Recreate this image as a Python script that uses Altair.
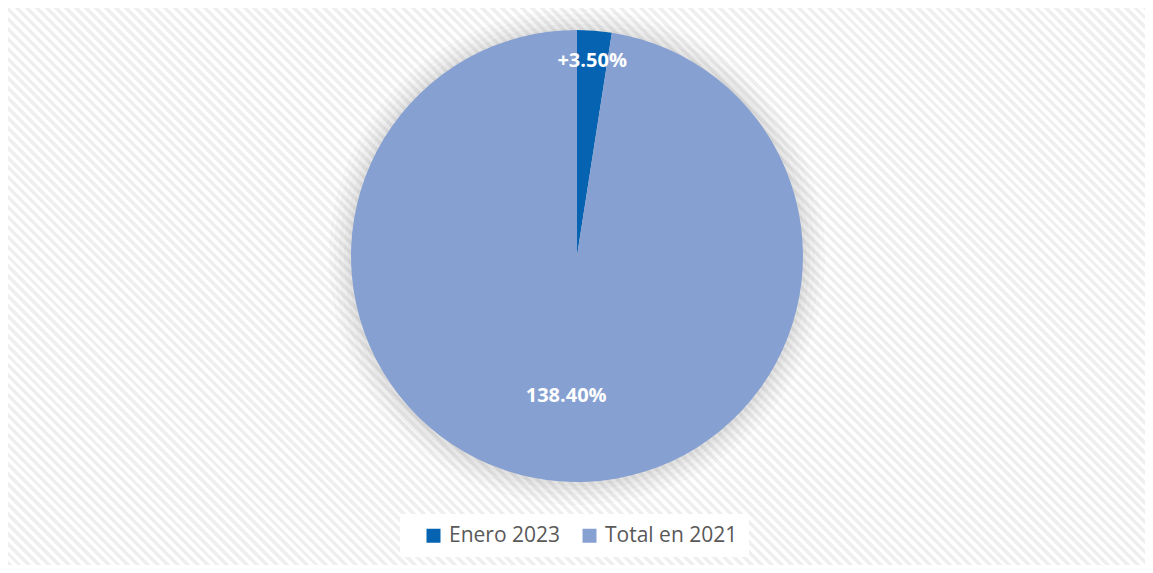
import math
import altair as alt
import pandas as pd

categories = ["Enero 2023", "Total en 2021"]
values = [3.50, 138.40]
labels = ["+3.50%", "138.40%"]
colors = ["#0563B1", "#86A0D1"]

W, H = 1137, 557
CX, CY, R = 569, 248, 226

df = pd.DataFrame({"cat": categories, "val": values, "label": labels, "ord": [0, 1]})

# background stripes via gradient ("\" direction)
S = W
stops = []
period = 7.0 / (S * math.sqrt(2))
n = int(1 / period) + 1
for i in range(n):
    o = i * period
    a = o + period * 0.5
    for off, col in [(o, "#ffffff"), (a, "#ffffff"), (a, "#efefef"), (o + period, "#efefef")]:
        if off <= 1:
            stops.append(alt.GradientStop(offset=off, color=col))
grad = alt.LinearGradient(gradient="linear", stops=stops, x1=0, y1=1, x2=1, y2=0)

one = alt.Data(values=[{"a": 1}])
bg = alt.Chart(one).mark_rect(fill=grad, clip=True).encode(
    x=alt.value(0), x2=alt.value(S), y=alt.value(0), y2=alt.value(S)
)

shadows = []
for k, op in [(22, 0.035), (17, 0.04), (12, 0.045), (7, 0.05), (3, 0.05)]:
    shadows.append(
        alt.Chart(one).mark_arc(radius=R + k, theta=0, theta2=2 * math.pi, color="#7f7f7f",
                                opacity=op, clip=True)
        .encode(x=alt.value(CX), y=alt.value(CY + 1))
    )

base = alt.Chart(df)
pie = base.mark_arc(radius=R).encode(
    theta=alt.Theta("val:Q", stack=True),
    order=alt.Order("ord:Q"),
    color=alt.Color(
        "cat:N",
        scale=alt.Scale(domain=categories, range=colors),
        legend=alt.Legend(
            title=None, orient="none", legendX=392, legendY=506, direction="horizontal",
            fillColor="white", padding=11, symbolType="square", symbolSize=196,
            symbolStrokeWidth=0, labelFontSize=21, labelFont="Open Sans",
            labelColor="#595959", columnPadding=6, symbolOffset=12, labelOffset=5,
        ),
    ),
    x=alt.value(CX), y=alt.value(CY),
)

txt = base.transform_joinaggregate(
    total="sum(val)"
).transform_window(
    cum="sum(val)", sort=[alt.SortField("ord")]
).transform_calculate(
    th="(datum.cum - datum.val / 2) / datum.total * 2 * PI",
    r="datum.cat == 'Enero 2023' ? 196 : 140",
).mark_text(font="Open Sans", fontWeight="bold", fontSize=20, color="white").encode(
    theta=alt.Theta("th:Q", scale=None),
    radius=alt.Radius("r:Q", scale=None),
    text="label:N",
    x=alt.value(CX), y=alt.value(CY),
)

chart = alt.layer(bg, *shadows, pie, txt).properties(
    width=W, height=H, padding=0,
    autosize=alt.AutoSizeParams(type="fit", contains="padding"),
).configure_view(stroke=None).configure(background="white")

chart.save("out.html", embed_options={"renderer": "svg", "actions": False})
